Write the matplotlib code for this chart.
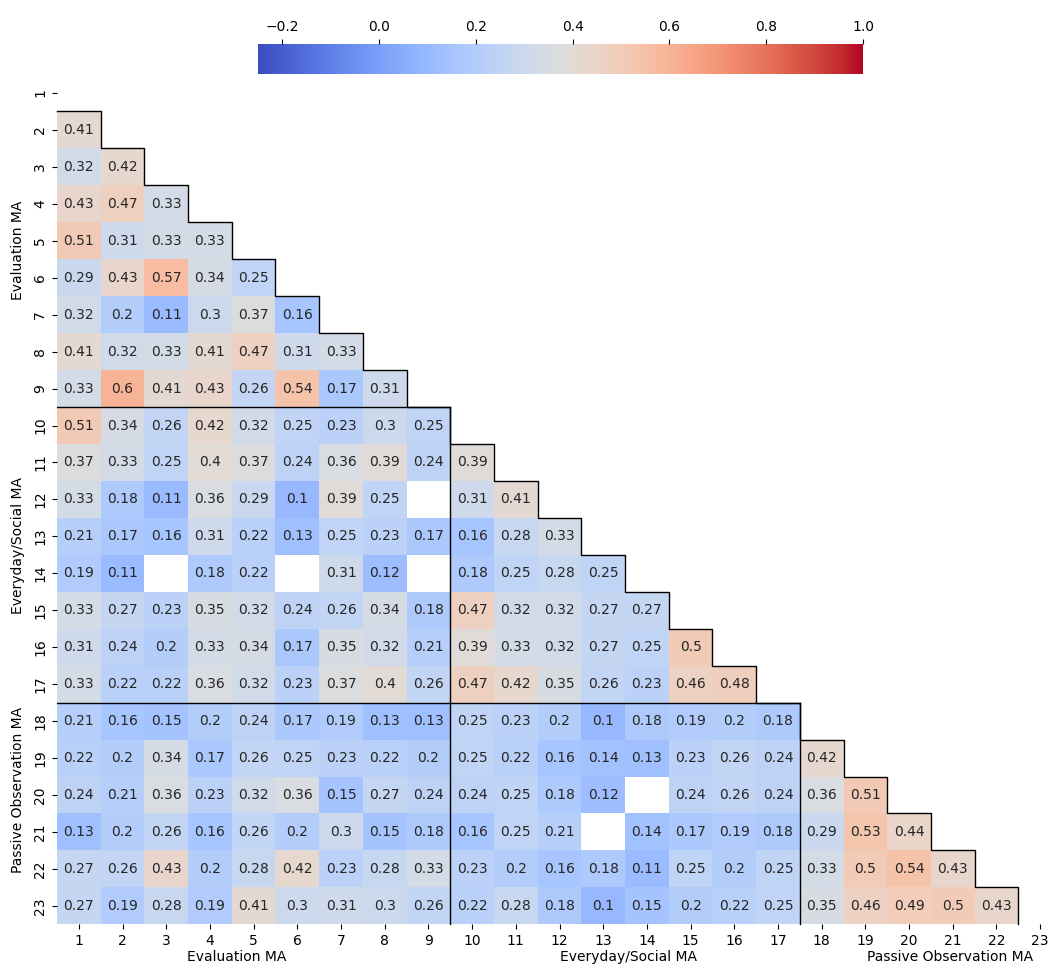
import numpy as np
import matplotlib
matplotlib.use("Agg")
import matplotlib.pyplot as plt
import seaborn as sns

# item numbers shown on both axes
item_labels = [str(i) for i in range(1, 24)]
group_names = ["Evaluation MA", "Everyday/Social MA", "Passive Observation MA"]
group_sizes = [9, 8, 6]

nan = np.nan
# lower triangle: row k holds item k+2 against items 1..k+1 (nan = blank cell)
lower_rows = [
    [0.41],
    [0.32, 0.42],
    [0.43, 0.47, 0.33],
    [0.51, 0.31, 0.33, 0.33],
    [0.29, 0.43, 0.57, 0.34, 0.25],
    [0.32, 0.2, 0.11, 0.3, 0.37, 0.16],
    [0.41, 0.32, 0.33, 0.41, 0.47, 0.31, 0.33],
    [0.33, 0.6, 0.41, 0.43, 0.26, 0.54, 0.17, 0.31],
    [0.51, 0.34, 0.26, 0.42, 0.32, 0.25, 0.23, 0.3, 0.25],
    [0.37, 0.33, 0.25, 0.4, 0.37, 0.24, 0.36, 0.39, 0.24, 0.39],
    [0.33, 0.18, 0.11, 0.36, 0.29, 0.1, 0.39, 0.25, nan, 0.31, 0.41],
    [0.21, 0.17, 0.16, 0.31, 0.22, 0.13, 0.25, 0.23, 0.17, 0.16, 0.28, 0.33],
    [0.19, 0.11, nan, 0.18, 0.22, nan, 0.31, 0.12, nan, 0.18, 0.25, 0.28, 0.25],
    [0.33, 0.27, 0.23, 0.35, 0.32, 0.24, 0.26, 0.34, 0.18, 0.47, 0.32, 0.32, 0.27, 0.27],
    [0.31, 0.24, 0.2, 0.33, 0.34, 0.17, 0.35, 0.32, 0.21, 0.39, 0.33, 0.32, 0.27, 0.25, 0.5],
    [0.33, 0.22, 0.22, 0.36, 0.32, 0.23, 0.37, 0.4, 0.26, 0.47, 0.42, 0.35, 0.26, 0.23, 0.46, 0.48],
    [0.21, 0.16, 0.15, 0.2, 0.24, 0.17, 0.19, 0.13, 0.13, 0.25, 0.23, 0.2, 0.1, 0.18, 0.19, 0.2, 0.18],
    [0.22, 0.2, 0.34, 0.17, 0.26, 0.25, 0.23, 0.22, 0.2, 0.25, 0.22, 0.16, 0.14, 0.13, 0.23, 0.26, 0.24, 0.42],
    [0.24, 0.21, 0.36, 0.23, 0.32, 0.36, 0.15, 0.27, 0.24, 0.24, 0.25, 0.18, 0.12, nan, 0.24, 0.26, 0.24, 0.36, 0.51],
    [0.13, 0.2, 0.26, 0.16, 0.26, 0.2, 0.3, 0.15, 0.18, 0.16, 0.25, 0.21, nan, 0.14, 0.17, 0.19, 0.18, 0.29, 0.53, 0.44],
    [0.27, 0.26, 0.43, 0.2, 0.28, 0.42, 0.23, 0.28, 0.33, 0.23, 0.2, 0.16, 0.18, 0.11, 0.25, 0.2, 0.25, 0.33, 0.5, 0.54, 0.43],
    [0.27, 0.19, 0.28, 0.19, 0.41, 0.3, 0.31, 0.3, 0.26, 0.22, 0.28, 0.18, 0.1, 0.15, 0.2, 0.22, 0.25, 0.35, 0.46, 0.49, 0.5, 0.43],
]

n = len(item_labels)
corr = np.full((n, n), np.nan)
for i, row in enumerate(lower_rows, start=1):
    corr[i, :len(row)] = row
mask = np.triu(np.ones((n, n), dtype=bool))

W, H = 1059, 971
fig = plt.figure(figsize=(W / 100, H / 100), dpi=100)
ax = fig.add_axes([57 / W, 1 - 924.3 / H, 1005 / W, 849.8 / H])
cax = fig.add_axes([258 / W, 1 - 74 / H, 605 / W, 30 / H])

sns.heatmap(corr, mask=mask, cmap="coolwarm", vmin=-0.25, vmax=1.0,
            annot=True, ax=ax, cbar_ax=cax,
            cbar_kws={"orientation": "horizontal",
                      "ticks": [-0.2, 0.0, 0.2, 0.4, 0.6, 0.8, 1.0]},
            xticklabels=item_labels, yticklabels=item_labels)
cax.xaxis.set_ticks_position("top")
ax.set_xlabel("")
ax.set_ylabel("")

# staircase outline along the diagonal
sx, sy = [0], [1]
for k in range(1, n):
    sx += [k, k]
    sy += [k, k + 1]
ax.plot(sx, sy, color="black", lw=1, clip_on=False)

# group separators
bounds = np.cumsum(group_sizes)[:-1]
for b in bounds:
    ax.plot([0, b], [b, b], color="black", lw=1)
    ax.plot([b, b], [b, n], color="black", lw=1, clip_on=False)

# group names
for name, px in zip(group_names, [237, 628, 950]):
    fig.text(px / W, 1 - 957 / H, name, ha="center", va="center", fontsize=10)
for name, py in zip(group_names, [250, 546, 790]):
    fig.text(18 / W, 1 - py / H, name, ha="center", va="center",
             rotation=90, fontsize=10)

fig.savefig("out.png", dpi=100)
